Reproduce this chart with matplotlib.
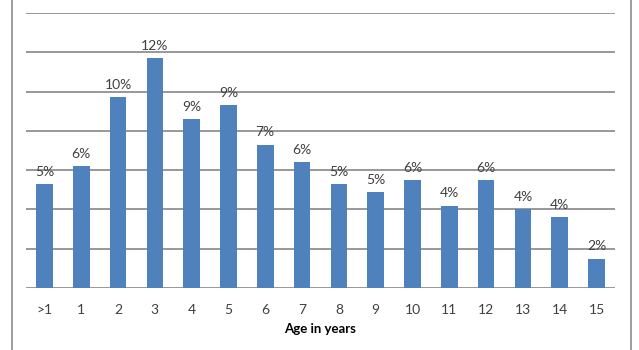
import matplotlib.pyplot as plt
from matplotlib.lines import Line2D

ages = ['>1', '1', '2', '3', '4', '5', '6', '7', '8', '9', '10', '11', '12', '13', '14', '15']
shares = [5.3, 6.2, 9.7, 11.7, 8.6, 9.3, 7.3, 6.4, 5.3, 4.9, 5.5, 4.2, 5.5, 4.0, 3.6, 1.5]

plt.rcParams['font.family'] = ['Lato', 'DejaVu Sans']

fig = plt.figure(figsize=(6.39, 3.5), dpi=100)
ax = fig.add_axes([26 / 639, 1 - 288 / 350, 589 / 639, 275 / 350])

x = range(len(ages))
bars = ax.bar(x, shares, width=0.45, color='#4f81bd', zorder=3)

for b, v in zip(bars, shares):
    ax.annotate(f'{v:.0f}%', (b.get_x() + b.get_width() / 2, v),
                xytext=(0, 4.5), textcoords='offset points',
                ha='center', va='bottom', fontsize=10, color='#404040', zorder=4)

ax.set_xlim(-0.5, len(ages) - 0.5)
ax.set_ylim(0, 14)
ax.set_yticks(range(0, 15, 2))
ax.yaxis.grid(True, color='#868686', linewidth=1.2, zorder=0)
ax.tick_params(axis='y', left=False, labelleft=False)
ax.tick_params(axis='x', bottom=False, labelsize=10, labelcolor='#404040', pad=8)
ax.set_xticks(list(x))
ax.set_xticklabels(ages)
ax.set_xlabel('Age in years', fontsize=9.5, fontweight='bold', labelpad=5)

for s in ax.spines.values():
    s.set_visible(False)

# outer chart-area border (left and right edges)
for xf in (11.5 / 639, 630.5 / 639):
    fig.add_artist(Line2D([xf, xf], [0, 1], color='#8c8c8c', linewidth=1.2))

fig.savefig('out.png', dpi=100, facecolor='white')
